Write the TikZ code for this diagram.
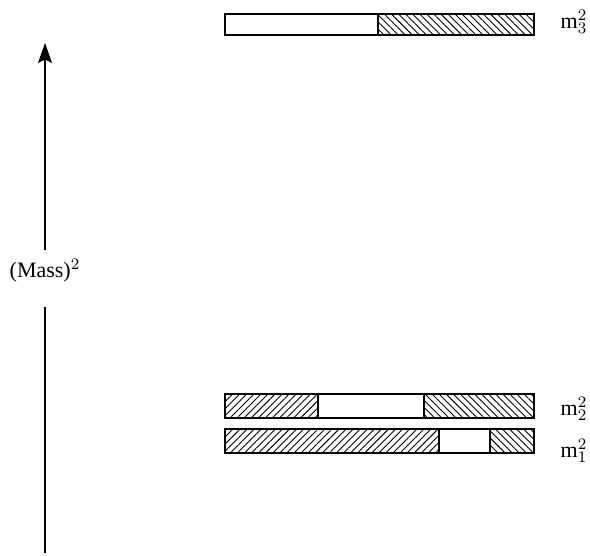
\documentclass[tikz,border=0pt]{standalone}
\usepackage{fontspec}
\setmainfont{Liberation Serif}
\usetikzlibrary{arrows.meta,patterns.meta}

\tikzset{
  bar/.style={draw, line width=0.6pt},
  hatch up/.style={pattern={Lines[angle=45,distance=2.5pt,line width=0.45pt]}},
  hatch down/.style={pattern={Lines[angle=-45,distance=2.5pt,line width=0.45pt]}},
}

\begin{document}
\begin{tikzpicture}[x=0.5pt, y=-0.5pt, font=\fontsize{11}{13}\selectfont]
            \useasboundingbox (0,0) rectangle (590,556);

            % mass axis
            \node (mass) at (45,271) {(Mass)$^2$};
            \coordinate (base) at (45,553);
            \coordinate (gaplo) at (45,307);
            \coordinate (gaphi) at (45,250);
            \coordinate (tip) at (45,43);
            \draw[line width=0.6pt] (base) -- (gaplo);
            \draw[line width=0.6pt, -{Stealth[length=10pt, width=7pt, inset=1.8pt]}] (gaphi) -- (tip);

            % m_3
            \draw[bar] (225,14) rectangle (378,35);
            \draw[bar, hatch down] (378,14) rectangle (534,35);
            \node (m3) at (574,22) {$\mathrm{m}_3^2$};

            % m_2
            \draw[bar, hatch up] (225,394) rectangle (318,418);
            \draw[bar] (318,394) rectangle (424,418);
            \draw[bar, hatch down] (424,394) rectangle (534,418);
            \node (m2) at (574,409) {$\mathrm{m}_2^2$};

            % m_1
            \draw[bar, hatch up] (225,429) rectangle (439,453);
            \draw[bar] (439,429) rectangle (490,453);
            \draw[bar, hatch down] (490,429) rectangle (534,453);
            \node (m1) at (574,451) {$\mathrm{m}_1^2$};
        \end{tikzpicture}
\end{document}
